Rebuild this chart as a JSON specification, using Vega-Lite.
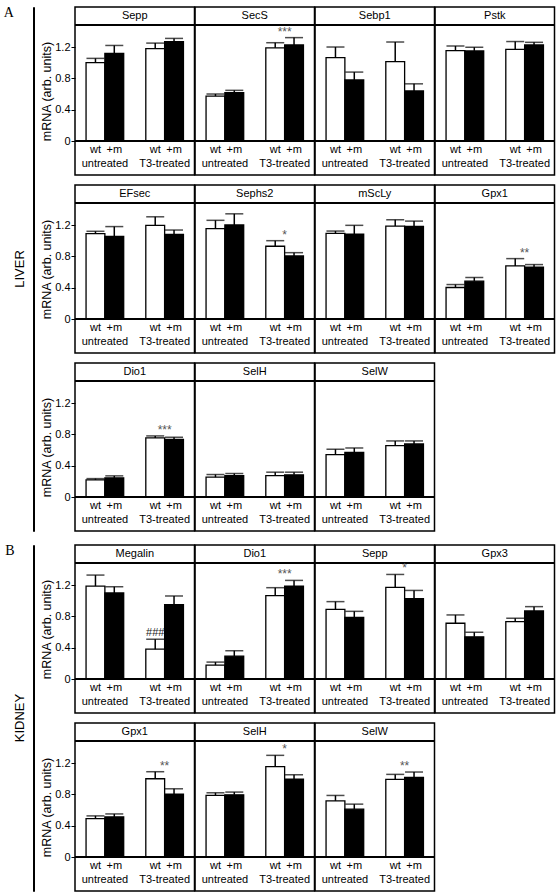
{
  "$schema": "https://vega.github.io/schema/vega-lite/v6.json",
  "padding": {"left": 3, "top": 6, "right": 0, "bottom": 0},
  "background": "white",
  "data": {"values": [
    {"organ":"LIVER","gene":"Sepp","treatment":"untreated","genotype":"wt","mean":1.00,"hi":1.055},
    {"organ":"LIVER","gene":"Sepp","treatment":"untreated","genotype":"+m","mean":1.12,"hi":1.22},
    {"organ":"LIVER","gene":"Sepp","treatment":"T3-treated","genotype":"wt","mean":1.18,"hi":1.25},
    {"organ":"LIVER","gene":"Sepp","treatment":"T3-treated","genotype":"+m","mean":1.27,"hi":1.31},
    {"organ":"LIVER","gene":"SecS","treatment":"untreated","genotype":"wt","mean":0.574,"hi":0.60},
    {"organ":"LIVER","gene":"SecS","treatment":"untreated","genotype":"+m","mean":0.617,"hi":0.647},
    {"organ":"LIVER","gene":"SecS","treatment":"T3-treated","genotype":"wt","mean":1.19,"hi":1.255,"sig":"***"},
    {"organ":"LIVER","gene":"SecS","treatment":"T3-treated","genotype":"+m","mean":1.226,"hi":1.32},
    {"organ":"LIVER","gene":"Sebp1","treatment":"untreated","genotype":"wt","mean":1.064,"hi":1.20},
    {"organ":"LIVER","gene":"Sebp1","treatment":"untreated","genotype":"+m","mean":0.78,"hi":0.88},
    {"organ":"LIVER","gene":"Sebp1","treatment":"T3-treated","genotype":"wt","mean":1.013,"hi":1.264},
    {"organ":"LIVER","gene":"Sebp1","treatment":"T3-treated","genotype":"+m","mean":0.64,"hi":0.73},
    {"organ":"LIVER","gene":"Pstk","treatment":"untreated","genotype":"wt","mean":1.153,"hi":1.213},
    {"organ":"LIVER","gene":"Pstk","treatment":"untreated","genotype":"+m","mean":1.15,"hi":1.197},
    {"organ":"LIVER","gene":"Pstk","treatment":"T3-treated","genotype":"wt","mean":1.17,"hi":1.27},
    {"organ":"LIVER","gene":"Pstk","treatment":"T3-treated","genotype":"+m","mean":1.226,"hi":1.26},
    {"organ":"LIVER","gene":"EFsec","treatment":"untreated","genotype":"wt","mean":1.09,"hi":1.12},
    {"organ":"LIVER","gene":"EFsec","treatment":"untreated","genotype":"+m","mean":1.056,"hi":1.18},
    {"organ":"LIVER","gene":"EFsec","treatment":"T3-treated","genotype":"wt","mean":1.196,"hi":1.305},
    {"organ":"LIVER","gene":"EFsec","treatment":"T3-treated","genotype":"+m","mean":1.08,"hi":1.136},
    {"organ":"LIVER","gene":"Sephs2","treatment":"untreated","genotype":"wt","mean":1.153,"hi":1.26},
    {"organ":"LIVER","gene":"Sephs2","treatment":"untreated","genotype":"+m","mean":1.2,"hi":1.343},
    {"organ":"LIVER","gene":"Sephs2","treatment":"T3-treated","genotype":"wt","mean":0.929,"hi":1.0,"sig":"*"},
    {"organ":"LIVER","gene":"Sephs2","treatment":"T3-treated","genotype":"+m","mean":0.805,"hi":0.847},
    {"organ":"LIVER","gene":"mScLy","treatment":"untreated","genotype":"wt","mean":1.094,"hi":1.123},
    {"organ":"LIVER","gene":"mScLy","treatment":"untreated","genotype":"+m","mean":1.085,"hi":1.196},
    {"organ":"LIVER","gene":"mScLy","treatment":"T3-treated","genotype":"wt","mean":1.187,"hi":1.267},
    {"organ":"LIVER","gene":"mScLy","treatment":"T3-treated","genotype":"+m","mean":1.183,"hi":1.25},
    {"organ":"LIVER","gene":"Gpx1","treatment":"untreated","genotype":"wt","mean":0.402,"hi":0.44},
    {"organ":"LIVER","gene":"Gpx1","treatment":"untreated","genotype":"+m","mean":0.483,"hi":0.53},
    {"organ":"LIVER","gene":"Gpx1","treatment":"T3-treated","genotype":"wt","mean":0.678,"hi":0.771,"sig":"**"},
    {"organ":"LIVER","gene":"Gpx1","treatment":"T3-treated","genotype":"+m","mean":0.661,"hi":0.695},
    {"organ":"LIVER","gene":"Dio1","treatment":"untreated","genotype":"wt","mean":0.219,"hi":0.235},
    {"organ":"LIVER","gene":"Dio1","treatment":"untreated","genotype":"+m","mean":0.244,"hi":0.27},
    {"organ":"LIVER","gene":"Dio1","treatment":"T3-treated","genotype":"wt","mean":0.755,"hi":0.78,"sig":"***"},
    {"organ":"LIVER","gene":"Dio1","treatment":"T3-treated","genotype":"+m","mean":0.737,"hi":0.763},
    {"organ":"LIVER","gene":"SelH","treatment":"untreated","genotype":"wt","mean":0.253,"hi":0.287},
    {"organ":"LIVER","gene":"SelH","treatment":"untreated","genotype":"+m","mean":0.274,"hi":0.30},
    {"organ":"LIVER","gene":"SelH","treatment":"T3-treated","genotype":"wt","mean":0.274,"hi":0.317},
    {"organ":"LIVER","gene":"SelH","treatment":"T3-treated","genotype":"+m","mean":0.283,"hi":0.317},
    {"organ":"LIVER","gene":"SelW","treatment":"untreated","genotype":"wt","mean":0.54,"hi":0.61},
    {"organ":"LIVER","gene":"SelW","treatment":"untreated","genotype":"+m","mean":0.57,"hi":0.626},
    {"organ":"LIVER","gene":"SelW","treatment":"T3-treated","genotype":"wt","mean":0.656,"hi":0.716},
    {"organ":"LIVER","gene":"SelW","treatment":"T3-treated","genotype":"+m","mean":0.678,"hi":0.716},
    {"organ":"KIDNEY","gene":"Megalin","treatment":"untreated","genotype":"wt","mean":1.187,"hi":1.327},
    {"organ":"KIDNEY","gene":"Megalin","treatment":"untreated","genotype":"+m","mean":1.098,"hi":1.178},
    {"organ":"KIDNEY","gene":"Megalin","treatment":"T3-treated","genotype":"wt","mean":0.381,"hi":0.508,"hash":"###"},
    {"organ":"KIDNEY","gene":"Megalin","treatment":"T3-treated","genotype":"+m","mean":0.95,"hi":1.06},
    {"organ":"KIDNEY","gene":"Dio1","treatment":"untreated","genotype":"wt","mean":0.178,"hi":0.216},
    {"organ":"KIDNEY","gene":"Dio1","treatment":"untreated","genotype":"+m","mean":0.292,"hi":0.361},
    {"organ":"KIDNEY","gene":"Dio1","treatment":"T3-treated","genotype":"wt","mean":1.064,"hi":1.166,"sig":"***"},
    {"organ":"KIDNEY","gene":"Dio1","treatment":"T3-treated","genotype":"+m","mean":1.187,"hi":1.259},
    {"organ":"KIDNEY","gene":"Sepp","treatment":"untreated","genotype":"wt","mean":0.89,"hi":0.988},
    {"organ":"KIDNEY","gene":"Sepp","treatment":"untreated","genotype":"+m","mean":0.788,"hi":0.864},
    {"organ":"KIDNEY","gene":"Sepp","treatment":"T3-treated","genotype":"wt","mean":1.17,"hi":1.335,"sig":"*"},
    {"organ":"KIDNEY","gene":"Sepp","treatment":"T3-treated","genotype":"+m","mean":1.026,"hi":1.131},
    {"organ":"KIDNEY","gene":"Gpx3","treatment":"untreated","genotype":"wt","mean":0.712,"hi":0.818},
    {"organ":"KIDNEY","gene":"Gpx3","treatment":"untreated","genotype":"+m","mean":0.539,"hi":0.597},
    {"organ":"KIDNEY","gene":"Gpx3","treatment":"T3-treated","genotype":"wt","mean":0.733,"hi":0.776},
    {"organ":"KIDNEY","gene":"Gpx3","treatment":"T3-treated","genotype":"+m","mean":0.869,"hi":0.924},
    {"organ":"KIDNEY","gene":"Gpx1","treatment":"untreated","genotype":"wt","mean":0.49,"hi":0.525},
    {"organ":"KIDNEY","gene":"Gpx1","treatment":"untreated","genotype":"+m","mean":0.512,"hi":0.55},
    {"organ":"KIDNEY","gene":"Gpx1","treatment":"T3-treated","genotype":"wt","mean":0.999,"hi":1.089,"sig":"**"},
    {"organ":"KIDNEY","gene":"Gpx1","treatment":"T3-treated","genotype":"+m","mean":0.803,"hi":0.871},
    {"organ":"KIDNEY","gene":"SelH","treatment":"untreated","genotype":"wt","mean":0.786,"hi":0.82},
    {"organ":"KIDNEY","gene":"SelH","treatment":"untreated","genotype":"+m","mean":0.794,"hi":0.829},
    {"organ":"KIDNEY","gene":"SelH","treatment":"T3-treated","genotype":"wt","mean":1.153,"hi":1.298,"sig":"*"},
    {"organ":"KIDNEY","gene":"SelH","treatment":"T3-treated","genotype":"+m","mean":0.995,"hi":1.05},
    {"organ":"KIDNEY","gene":"SelW","treatment":"untreated","genotype":"wt","mean":0.717,"hi":0.786},
    {"organ":"KIDNEY","gene":"SelW","treatment":"untreated","genotype":"+m","mean":0.611,"hi":0.675},
    {"organ":"KIDNEY","gene":"SelW","treatment":"T3-treated","genotype":"wt","mean":0.991,"hi":1.055,"sig":"**"},
    {"organ":"KIDNEY","gene":"SelW","treatment":"T3-treated","genotype":"+m","mean":1.017,"hi":1.085}
  ]},
  "vconcat": [
    {
      "title": {"text": "A", "orient": "left", "angle": 0, "align": "right", "anchor": "end", "font": "Liberation Serif", "fontSize": 14, "fontWeight": "normal", "baseline": "top", "offset": -11},
      "hconcat": [
        {
          "width": 1, "height": 524,
          "view": {"stroke": "black", "strokeWidth": 1},
          "title": {"text": "LIVER", "orient": "left", "anchor": "middle", "font": "Liberation Sans", "fontSize": 13, "fontWeight": "normal", "offset": 6},
          "mark": {"type": "rule", "opacity": 0},
          "encoding": {}
        },
        {
          "transform": [{"filter": "datum.organ == 'LIVER'"}],
          "facet": {"field": "gene", "type": "nominal", "sort": ["Sepp","SecS","Sebp1","Pstk","EFsec","Sephs2","mScLy","Gpx1","Dio1","SelH","SelW"], "header": {"labels": false, "title": null, "labelPadding": 0, "labelFontSize": 0, "labelExpr": "''"}},
          "columns": 4,
          "bounds": "flush",
          "spacing": {"row": 10, "column": 0},
          "spec": {
            "width": 119.5, "height": 168,
            "layer": [
              {"mark": {"type": "bar", "stroke": "black", "strokeWidth": 1.3},
               "encoding": {
                 "x": {"field": "treatment", "type": "nominal", "sort": ["untreated","T3-treated"], "scale": {"paddingInner": 0.37, "paddingOuter": 0.185}, "axis": null},
                 "xOffset": {"field": "genotype", "type": "nominal", "sort": ["wt","+m"], "scale": {"paddingInner": 0, "paddingOuter": 0}},
                 "y": {"field": "mean", "type": "quantitative", "scale": {"domain": [-0.434, 1.711], "nice": false, "zero": false}, "axis": {"title": "mRNA (arb. units)", "values": [0, 0.4, 0.8, 1.2]}},
                 "fill": {"field": "genotype", "type": "nominal", "scale": {"domain": ["wt","+m"], "range": ["white","black"]}, "legend": null}
               }},
              {"mark": {"type": "rule", "color": "black", "strokeWidth": 1.5},
               "encoding": {
                 "x": {"field": "treatment", "type": "nominal", "sort": ["untreated","T3-treated"]},
                 "xOffset": {"field": "genotype", "type": "nominal", "sort": ["wt","+m"]},
                 "y": {"field": "mean", "type": "quantitative"},
                 "y2": {"field": "hi"}
               }},
              {"mark": {"type": "tick", "color": "black", "thickness": 1.5, "size": 18, "orient": "horizontal"},
               "encoding": {
                 "x": {"field": "treatment", "type": "nominal", "sort": ["untreated","T3-treated"]},
                 "xOffset": {"field": "genotype", "type": "nominal", "sort": ["wt","+m"]},
                 "y": {"field": "hi", "type": "quantitative"}
               }},
              {"mark": {"type": "rule", "color": "black", "strokeWidth": 1.5}, "encoding": {"y": {"datum": 0}}},
              {"mark": {"type": "rule", "color": "black", "strokeWidth": 1.5}, "encoding": {"y": {"datum": 1.481}}},
              {"transform": [{"filter": "datum.treatment == 'untreated' && datum.genotype == 'wt'"}],
               "mark": {"type": "text", "fontSize": 11, "baseline": "middle", "fill": "black"},
               "encoding": {"y": {"datum": 1.596}, "text": {"field": "gene"}}},
              {"mark": {"type": "text", "fontSize": 11, "baseline": "middle", "fill": "black"},
               "encoding": {
                 "x": {"field": "treatment", "type": "nominal", "sort": ["untreated","T3-treated"]},
                 "xOffset": {"field": "genotype", "type": "nominal", "sort": ["wt","+m"]},
                 "y": {"datum": -0.11},
                 "text": {"field": "genotype"}
               }},
              {"transform": [{"filter": "datum.genotype == 'wt'"}],
               "mark": {"type": "text", "fontSize": 11, "baseline": "middle", "fill": "black"},
               "encoding": {
                 "x": {"field": "treatment", "type": "nominal", "sort": ["untreated","T3-treated"]},
                 "y": {"datum": -0.29},
                 "text": {"field": "treatment"}
               }},
              {"transform": [{"joinaggregate": [{"op": "max", "field": "hi", "as": "gmax"}], "groupby": ["gene","treatment"]}, {"filter": "datum.sig"}],
               "mark": {"type": "text", "fontSize": 12, "baseline": "bottom", "dy": 1, "color": "#555", "fill": "#555"},
               "encoding": {
                 "x": {"field": "treatment", "type": "nominal", "sort": ["untreated","T3-treated"]},
                 "y": {"field": "gmax", "type": "quantitative"},
                 "text": {"field": "sig"}
               }}
            ]
          }
        }
      ],
      "spacing": 5
    },
    {
      "title": {"text": "B", "orient": "left", "angle": 0, "align": "right", "anchor": "end", "font": "Liberation Serif", "fontSize": 14, "fontWeight": "normal", "baseline": "top", "offset": -11},
      "hconcat": [
        {
          "width": 1, "height": 346,
          "view": {"stroke": "black", "strokeWidth": 1},
          "title": {"text": "KIDNEY", "orient": "left", "anchor": "middle", "font": "Liberation Sans", "fontSize": 13, "fontWeight": "normal", "offset": 6},
          "mark": {"type": "rule", "opacity": 0},
          "encoding": {}
        },
        {
          "transform": [{"filter": "datum.organ == 'KIDNEY'"}],
          "facet": {"field": "gene", "type": "nominal", "sort": ["Megalin","Dio1","Sepp","Gpx3","Gpx1","SelH","SelW"], "header": {"labels": false, "title": null, "labelPadding": 0, "labelFontSize": 0, "labelExpr": "''"}},
          "columns": 4,
          "bounds": "flush",
          "spacing": {"row": 10, "column": 0},
          "spec": {
            "width": 119.5, "height": 168,
            "layer": [
              {"mark": {"type": "bar", "stroke": "black", "strokeWidth": 1.3},
               "encoding": {
                 "x": {"field": "treatment", "type": "nominal", "sort": ["untreated","T3-treated"], "scale": {"paddingInner": 0.37, "paddingOuter": 0.185}, "axis": null},
                 "xOffset": {"field": "genotype", "type": "nominal", "sort": ["wt","+m"], "scale": {"paddingInner": 0, "paddingOuter": 0}},
                 "y": {"field": "mean", "type": "quantitative", "scale": {"domain": [-0.434, 1.711], "nice": false, "zero": false}, "axis": {"title": "mRNA (arb. units)", "values": [0, 0.4, 0.8, 1.2]}},
                 "fill": {"field": "genotype", "type": "nominal", "scale": {"domain": ["wt","+m"], "range": ["white","black"]}, "legend": null}
               }},
              {"mark": {"type": "rule", "color": "black", "strokeWidth": 1.5},
               "encoding": {
                 "x": {"field": "treatment", "type": "nominal", "sort": ["untreated","T3-treated"]},
                 "xOffset": {"field": "genotype", "type": "nominal", "sort": ["wt","+m"]},
                 "y": {"field": "mean", "type": "quantitative"},
                 "y2": {"field": "hi"}
               }},
              {"mark": {"type": "tick", "color": "black", "thickness": 1.5, "size": 18, "orient": "horizontal"},
               "encoding": {
                 "x": {"field": "treatment", "type": "nominal", "sort": ["untreated","T3-treated"]},
                 "xOffset": {"field": "genotype", "type": "nominal", "sort": ["wt","+m"]},
                 "y": {"field": "hi", "type": "quantitative"}
               }},
              {"mark": {"type": "rule", "color": "black", "strokeWidth": 1.5}, "encoding": {"y": {"datum": 0}}},
              {"mark": {"type": "rule", "color": "black", "strokeWidth": 1.5}, "encoding": {"y": {"datum": 1.481}}},
              {"transform": [{"filter": "datum.treatment == 'untreated' && datum.genotype == 'wt'"}],
               "mark": {"type": "text", "fontSize": 11, "baseline": "middle", "fill": "black"},
               "encoding": {"y": {"datum": 1.596}, "text": {"field": "gene"}}},
              {"mark": {"type": "text", "fontSize": 11, "baseline": "middle", "fill": "black"},
               "encoding": {
                 "x": {"field": "treatment", "type": "nominal", "sort": ["untreated","T3-treated"]},
                 "xOffset": {"field": "genotype", "type": "nominal", "sort": ["wt","+m"]},
                 "y": {"datum": -0.11},
                 "text": {"field": "genotype"}
               }},
              {"transform": [{"filter": "datum.genotype == 'wt'"}],
               "mark": {"type": "text", "fontSize": 11, "baseline": "middle", "fill": "black"},
               "encoding": {
                 "x": {"field": "treatment", "type": "nominal", "sort": ["untreated","T3-treated"]},
                 "y": {"datum": -0.29},
                 "text": {"field": "treatment"}
               }},
              {"transform": [{"joinaggregate": [{"op": "max", "field": "hi", "as": "gmax"}], "groupby": ["gene","treatment"]}, {"filter": "datum.sig"}],
               "mark": {"type": "text", "fontSize": 12, "baseline": "bottom", "dy": 1, "color": "#555", "fill": "#555"},
               "encoding": {
                 "x": {"field": "treatment", "type": "nominal", "sort": ["untreated","T3-treated"]},
                 "y": {"field": "gmax", "type": "quantitative"},
                 "text": {"field": "sig"}
               }},
              {"transform": [{"filter": "datum.hash"}],
               "mark": {"type": "text", "fontSize": 11, "baseline": "bottom", "dy": -1, "color": "#222", "fill": "#222"},
               "encoding": {
                 "x": {"field": "treatment", "type": "nominal", "sort": ["untreated","T3-treated"]},
                 "xOffset": {"field": "genotype", "type": "nominal", "sort": ["wt","+m"]},
                 "y": {"field": "hi", "type": "quantitative"},
                 "text": {"field": "hash"}
               }}
            ]
          }
        }
      ],
      "spacing": 5
    }
  ],
  "spacing": 12,
  "config": {
    "font": "Liberation Sans",
    "view": {"stroke": "black", "strokeWidth": 1.5},
    "header": {"labels": false, "labelPadding": 0, "titlePadding": 0, "labelFontSize": 0},
    "headerFacet": {"labels": false, "labelPadding": 0, "titlePadding": 0, "labelFontSize": 0},
    "axisY": {
      "format": ".1~f",
      "labelOverlap": false,
      "tickSize": 4,
      "domain": false,
      "grid": false,
      "titleFontSize": 12.5,
      "titleFontWeight": "normal",
      "titleColor": "black",
      "titlePadding": 1,
      "labelFontSize": 11,
      "labelColor": "black",
      "labelPadding": 1,
      "tickColor": "black",
      "tickWidth": 1
    }
  }
}
